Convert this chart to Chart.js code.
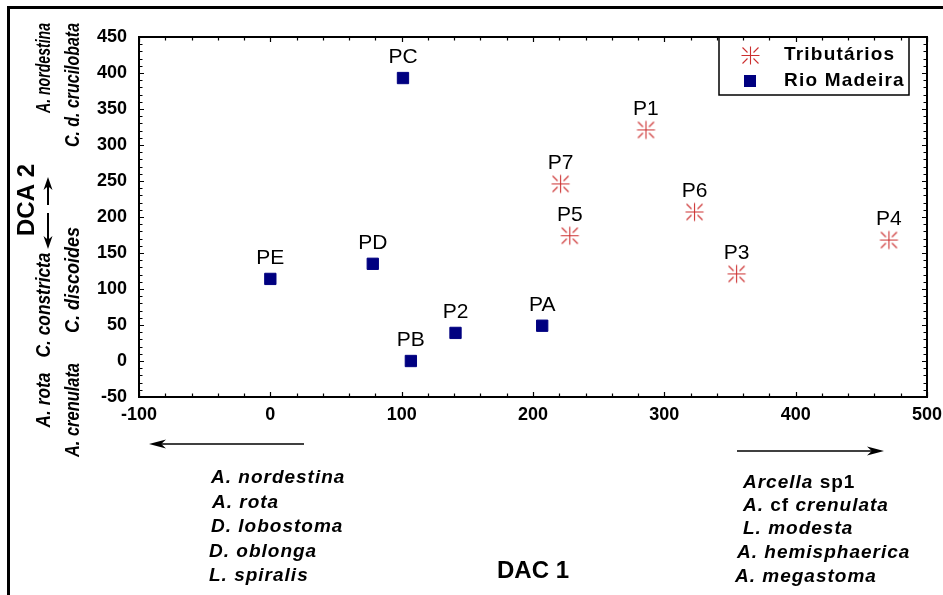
<!DOCTYPE html>
<html>
<head>
<meta charset="utf-8">
<script src="https://cdn.jsdelivr.net/npm/chart.js@4"></script>
<style>
  html, body { margin: 0; padding: 0; background: #fff; }
  #wrap { width: 943px; height: 595px; position: relative; overflow: hidden; }
</style>
</head>
<body>
<div id="wrap"><canvas id="c" width="943" height="595"></canvas></div>
<script>
// eixos
const xRange = [-100, 500];
const yRange = [-50, 450];
const xStep = 100;
const yStep = 50;

// Tributários
const tribNames = ['P1', 'P3', 'P4', 'P5', 'P6', 'P7'];
const tribX = [286, 355, 471, 228, 323, 221];
const tribY = [321, 121, 168, 174, 207, 246];

// Rio Madeira
const rioNames = ['PA', 'PB', 'PC', 'PD', 'PE', 'P2'];
const rioX = [207, 107, 101, 78, 0, 141];
const rioY = [49, 0, 393, 135, 114, 39];

const seriesLabels = ['Tributários', 'Rio Madeira'];
const xTitle = 'DAC 1';
const yTitle = 'DCA 2';

// espécies ao longo dos eixos
const xNegSpecies = ['A. nordestina', 'A. rota', 'D. lobostoma', 'D. oblonga', 'L. spiralis'];
const xPosSpecies = ['Arcella sp1', 'A. cf crenulata', 'L. modesta', 'A. hemisphaerica', 'A. megastoma'];
const yPosSpecies = ['A. nordestina', 'C. d. crucilobata'];
const yNegSpecies = ['C. constricta', 'A. rota', 'C. discoides', 'A. crenulata'];
const uprightWords = ['sp1', 'cf'];

const FONT = 'Liberation Sans, Arial, sans-serif';
const RED = '#cc3030';
const NAVY = '#000080';

Chart.defaults.font.family = FONT;
Chart.defaults.color = '#000';

// marcador asterisco
function makeStar() {
  const c = document.createElement('canvas');
  c.width = 21; c.height = 21;
  const g = c.getContext('2d');
  g.strokeStyle = RED;
  g.lineWidth = 1.1;
  g.beginPath();
  g.moveTo(1.5, 10.5); g.lineTo(19.5, 10.5);
  g.moveTo(10.5, 1.5); g.lineTo(10.5, 19.5);
  [[1, 1], [1, -1], [-1, 1], [-1, -1]].forEach(([sx, sy]) => {
    g.moveTo(10.5 + sx * 3, 10.5 + sy * 3);
    g.lineTo(10.5 + sx * 8, 10.5 + sy * 8);
  });
  g.stroke();
  return c;
}
const starImg = makeStar();

function arrow(ctx, x1, y1, x2, y2, hl, hw) {
  const ang = Math.atan2(y2 - y1, x2 - x1);
  ctx.beginPath();
  ctx.moveTo(x1, y1);
  ctx.lineTo(x2 - Math.cos(ang) * hl * 0.7, y2 - Math.sin(ang) * hl * 0.7);
  ctx.stroke();
  ctx.save();
  ctx.translate(x2, y2);
  ctx.rotate(ang);
  ctx.beginPath();
  ctx.moveTo(0, 0);
  ctx.lineTo(-hl, -hw);
  ctx.lineTo(-hl * 0.72, 0);
  ctx.lineTo(-hl, hw);
  ctx.closePath();
  ctx.fill();
  ctx.restore();
}

function rotText(ctx, text, cx, cy, w) {
  ctx.save();
  ctx.translate(cx, cy);
  ctx.rotate(-Math.PI / 2);
  ctx.textAlign = 'center';
  ctx.textBaseline = 'middle';
  ctx.fillText(text, 0, 0, w);
  ctx.restore();
}

// texto palavra a palavra: itálico, exceto as palavras em uprightWords
function speciesText(ctx, text, x, y) {
  let cx = x;
  text.split(' ').forEach((word, i) => {
    const up = uprightWords.includes(word);
    ctx.font = (up ? 'bold ' : 'italic bold ') + '19px ' + FONT;
    if (i > 0) cx += ctx.measureText(' ').width;
    ctx.fillText(word, cx, y);
    cx += ctx.measureText(word).width;
  });
}

const extrasPlugin = {
  id: 'extras',
  afterDraw(chart) {
    const { ctx, chartArea: a, scales: { x, y } } = chart;
    ctx.save();
    ctx.fillStyle = '#000';
    ctx.strokeStyle = '#000';

    // moldura da figura
    ctx.fillRect(7, 6, 3, 600);
    ctx.fillRect(7, 6, 950, 3);

    // moldura do gráfico e marcas internas
    ctx.lineWidth = 2;
    ctx.strokeRect(a.left, a.top, a.right - a.left, a.bottom - a.top);
    ctx.lineWidth = 1.2;
    ctx.beginPath();
    for (let v = xRange[0]; v <= xRange[1]; v += xStep / 5) {
      const px = Math.round(x.getPixelForValue(v)) + 0.5;
      const len = v % xStep === 0 ? 5 : 3.5;
      ctx.moveTo(px, a.bottom); ctx.lineTo(px, a.bottom - len);
      ctx.moveTo(px, a.top); ctx.lineTo(px, a.top + len);
    }
    for (let v = yRange[0]; v <= yRange[1]; v += yStep / 5) {
      const py = Math.round(y.getPixelForValue(v)) + 0.5;
      const len = v % yStep === 0 ? 5 : 3.5;
      ctx.moveTo(a.left, py); ctx.lineTo(a.left + len, py);
      ctx.moveTo(a.right, py); ctx.lineTo(a.right - len, py);
    }
    ctx.stroke();

    // nomes dos pontos
    ctx.font = '21px ' + FONT;
    ctx.textAlign = 'center';
    ctx.textBaseline = 'alphabetic';
    chart.data.datasets.forEach((ds, i) => {
      chart.getDatasetMeta(i).data.forEach((pt, j) => {
        ctx.fillText(ds.names[j], pt.x, pt.y - 15);
      });
    });

    // legenda
    const lx = 719, lw = 190, lh = 58;
    ctx.lineWidth = 1.5;
    ctx.strokeRect(lx, a.top, lw, lh);
    ctx.font = 'bold 19px ' + FONT;
    ctx.letterSpacing = '1.2px';
    ctx.textAlign = 'left';
    ctx.textBaseline = 'middle';
    chart.data.datasets.forEach((ds, i) => {
      const cy = a.top + 18 + i * 26;
      if (ds.pointStyle instanceof HTMLCanvasElement) {
        ctx.drawImage(ds.pointStyle, 740, Math.round(cy) - 10);
      } else {
        ctx.fillStyle = ds.backgroundColor;
        ctx.fillRect(744, cy - 6, 12, 12);
        ctx.fillStyle = '#000';
      }
      ctx.fillText(ds.label, 784, cy);
    });
    ctx.letterSpacing = '0px';

    // título do eixo y e setas
    ctx.font = 'bold 24px ' + FONT;
    rotText(ctx, yTitle, 27, 200);
    ctx.lineWidth = 2;
    arrow(ctx, 48, 205, 48, 177, 13, 4.5);
    arrow(ctx, 48, 213, 48, 249, 13, 4.5);

    // espécies do eixo y
    ctx.font = 'italic bold 20px ' + FONT;
    const yPosLayout = [[44, 68, 90], [73, 85, 124]];
    const yNegLayout = [[44, 305, 105], [44, 400, 55], [73, 280, 106], [73, 410, 94]];
    yPosSpecies.forEach((s, i) => rotText(ctx, s, ...yPosLayout[i]));
    yNegSpecies.forEach((s, i) => rotText(ctx, s, ...yNegLayout[i]));

    // setas e espécies do eixo x
    ctx.lineWidth = 1.6;
    arrow(ctx, 304, 444, 149, 444, 17, 4.5);
    arrow(ctx, 737, 451, 884, 451, 17, 4.5);
    ctx.textAlign = 'left';
    ctx.textBaseline = 'alphabetic';
    ctx.letterSpacing = '1px';
    const xNegLayout = [[211, 483], [212, 508], [211, 532], [209, 557], [209, 581]];
    const xPosLayout = [[743, 488], [743, 511], [743, 534], [737, 558], [735, 582]];
    xNegSpecies.forEach((s, i) => speciesText(ctx, s, ...xNegLayout[i]));
    xPosSpecies.forEach((s, i) => speciesText(ctx, s, ...xPosLayout[i]));
    ctx.letterSpacing = '0px';

    ctx.restore();
  }
};

const toPoints = (xs, ys) => xs.map((v, i) => ({ x: v, y: ys[i] }));

new Chart(document.getElementById('c'), {
  type: 'scatter',
  data: {
    datasets: [
      {
        label: seriesLabels[0],
        names: tribNames,
        data: toPoints(tribX, tribY),
        pointStyle: starImg,
        pointRadius: 10,
        backgroundColor: RED,
        borderColor: RED,
      },
      {
        label: seriesLabels[1],
        names: rioNames,
        data: toPoints(rioX, rioY),
        pointStyle: 'rect',
        pointRadius: 8,
        borderWidth: 1,
        backgroundColor: NAVY,
        borderColor: NAVY,
      },
    ],
  },
  options: {
    responsive: false,
    animation: false,
    layout: { padding: { top: 37, right: 16, left: 0, bottom: 0 } },
    plugins: {
      legend: { display: false },
      tooltip: { enabled: false },
    },
    scales: {
      x: {
        type: 'linear',
        min: xRange[0],
        max: xRange[1],
        ticks: { stepSize: xStep, padding: 7, font: { size: 18, weight: 'bold' } },
        grid: { display: false, drawTicks: false },
        border: { display: false },
        title: { display: true, text: xTitle, font: { size: 24, weight: 'bold' }, padding: { bottom: 9 } },
        afterFit: (s) => { s.height = 198; s.paddingLeft = 0; s.paddingRight = 0; },
      },
      y: {
        type: 'linear',
        min: yRange[0],
        max: yRange[1],
        ticks: { stepSize: yStep, padding: 12, font: { size: 18, weight: 'bold' } },
        grid: { display: false, drawTicks: false },
        border: { display: false },
        afterFit: (s) => { s.width = 139; s.paddingTop = 0; s.paddingBottom = 0; },
      },
    },
  },
  plugins: [extrasPlugin],
});
</script>
</body>
</html>
